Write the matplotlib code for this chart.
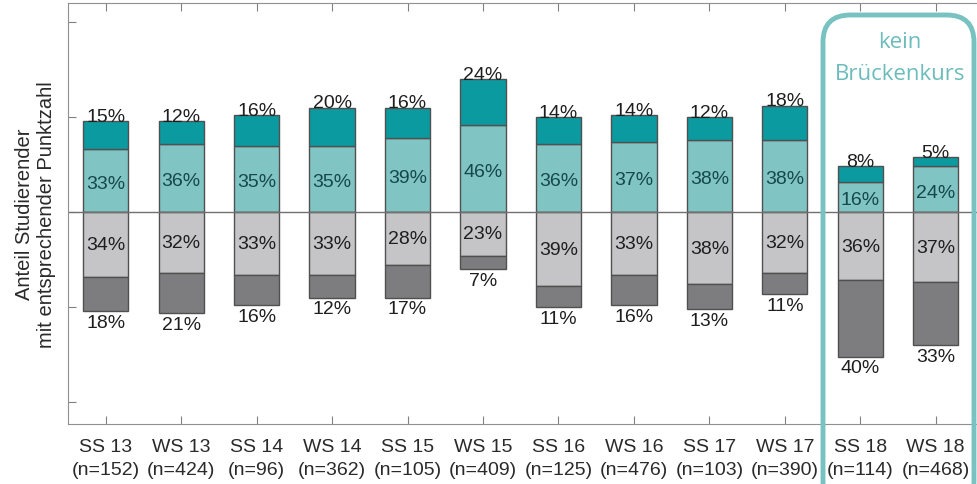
import numpy as np
import matplotlib
matplotlib.use("Agg")
import matplotlib.pyplot as plt
from matplotlib.patches import FancyBboxPatch

# semesters and sample sizes
semester = ["SS 13", "WS 13", "SS 14", "WS 14", "SS 15", "WS 15",
            "SS 16", "WS 16", "SS 17", "WS 17", "SS 18", "WS 18"]
n_students = [152, 424, 96, 362, 105, 409, 125, 476, 103, 390, 114, 468]

# shares in percent (positive side: top / upper-middle, negative: lower-middle / bottom)
top_pct = [15, 12, 16, 20, 16, 24, 14, 14, 12, 18, 8, 5]
upper_pct = [33, 36, 35, 35, 39, 46, 36, 37, 38, 38, 16, 24]
lower_pct = [34, 32, 33, 33, 28, 23, 39, 33, 38, 32, 36, 37]
bottom_pct = [18, 21, 16, 12, 17, 7, 11, 16, 13, 11, 40, 33]

c_top = "#0a9aa0"
c_upper = "#80c4c4"
c_lower = "#c5c5c7"
c_bottom = "#7d7d7f"
edge = "#505050"

plt.rcParams["font.family"] = ["Liberation Sans", "DejaVu Sans"]

fig = plt.figure(figsize=(9.78, 4.85), dpi=100)
ax = fig.add_axes([0.0695, 0.1237, 0.9305, 0.8681])

x = np.arange(len(semester))
w = 0.6
top = np.array(top_pct)
upper = np.array(upper_pct)
lower = np.array(lower_pct)
bottom = np.array(bottom_pct)

ax.bar(x, upper, w, color=c_upper, edgecolor=edge, linewidth=1)
ax.bar(x, top, w, bottom=upper, color=c_top, edgecolor=edge, linewidth=1)
ax.bar(x, -lower, w, color=c_lower, edgecolor=edge, linewidth=1)
ax.bar(x, -bottom, w, bottom=-lower, color=c_bottom, edgecolor=edge, linewidth=1)
ax.axhline(0, color="#707070", linewidth=1)

fs = 14
for i in x:
    ax.text(i, upper[i] + top[i] - 2, f"{top[i]}%", ha="center", va="bottom",
            fontsize=fs, color="#1e1e1e")
    ax.text(i, upper[i] / 2 - 1.5, f"{upper[i]}%", ha="center", va="center",
            fontsize=fs, color="#16484a")
    ax.text(i, -lower[i] / 2, f"{lower[i]}%", ha="center", va="center",
            fontsize=fs, color="#1e1e1e")
    ax.text(i, -lower[i] - bottom[i] - 1.5, f"{bottom[i]}%", ha="center", va="top",
            fontsize=fs, color="#1e1e1e")

ax.set_xlim(-0.5, 11.56)
ax.set_ylim(-111.5, 110)
ax.set_yticks([-100, -50, 0, 50, 100])
ax.set_yticklabels([])
ax.set_xticks(x)
ax.set_xticklabels([f"{s}\n(n={n})" for s, n in zip(semester, n_students)],
                   fontsize=14, color="#2a2a2a", linespacing=1.5)
ax.tick_params(axis="x", direction="in", length=6, top=True, pad=10, color="#808080")
ax.tick_params(axis="y", direction="in", length=6, color="#808080")
for side in ["left", "top", "bottom"]:
    ax.spines[side].set_color("#909090")
ax.spines["right"].set_visible(False)

ax.set_ylabel("Anteil Studierender\nmit entsprechender Punktzahl", fontsize=14.5,
              color="#2a2a2a", labelpad=5)

# highlight box for the semesters without bridge course
box = FancyBboxPatch((823 / 978, -0.05), 151 / 978, (485 - 16) / 485 + 0.05,
                     boxstyle="round,pad=0,rounding_size=0.028",
                     transform=fig.transFigure, fill=False,
                     edgecolor="#78c2c2", linewidth=3.5, clip_on=False,
                     mutation_aspect=2.0)
fig.add_artist(box)
fig.text(900 / 978, 1 - 43 / 485, "kein", ha="center", va="center",
         fontsize=16, color="#6cbcbc", family=["Open Sans", "DejaVu Sans"])
fig.text(900 / 978, 1 - 74 / 485, "Brückenkurs", ha="center", va="center",
         fontsize=16, color="#6cbcbc", family=["Open Sans", "DejaVu Sans"])

fig.savefig("out.png", dpi=100)
